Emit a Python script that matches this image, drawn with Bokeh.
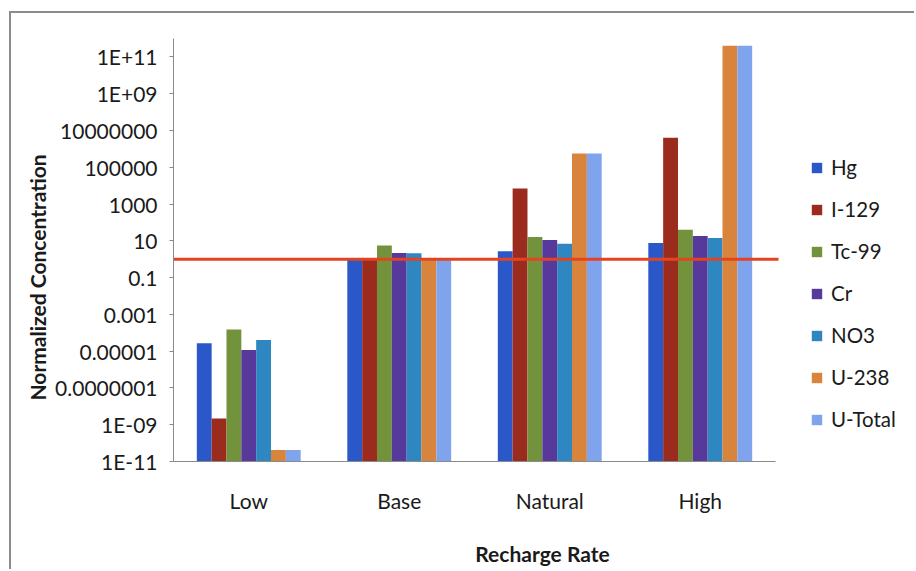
from bokeh.plotting import figure
from bokeh.models import (ColumnDataSource, Range1d, FixedTicker, Legend, LegendItem,
                          Title)
from bokeh.transform import dodge
from bokeh.embed import file_html
from bokeh.resources import INLINE

# ---- data ----
categories = ["Low", "Base", "Natural", "High"]
series_names = ["Hg", "I-129", "Tc-99", "Cr", "NO3", "U-238", "U-Total"]
hg      = [2.7e-5, 1.0, 2.7, 7.5]
i129    = [2.2e-9, 1.0, 7.0e3, 4.0e6]
tc99    = [1.5e-4, 5.5, 16.0, 40.0]
cr      = [1.15e-5, 2.2, 11.0, 18.0]
no3     = [4.0e-5, 2.1, 7.0, 14.0]
u238    = [4.2e-11, 0.9, 5.5e5, 4.0e11]
utotal  = [4.2e-11, 0.9, 5.5e5, 4.0e11]
threshold = 1.0
y_ticks = [1e-11, 1e-9, 1e-7, 1e-5, 1e-3, 1e-1, 1e1, 1e3, 1e5, 1e7, 1e9, 1e11]
y_tick_labels = ["1E-11", "1E-09", "0.0000001", "0.00001", "0.001", "0.1", "10",
                 "1000", "100000", "10000000", "1E+09", "1E+11"]
colors = ["#2b58c9", "#9b2c1d", "#72933b", "#56399b", "#2e87c0", "#d9843c", "#7fa4ed"]

FONT = "Lato"
TXT = "#1a1a1a"
AXC = "#8a8a8a"

ncat = len(categories)
xpos = [k + 0.5 for k in range(ncat)]
src = ColumnDataSource(dict(x=xpos, Hg=hg, I129=i129, Tc99=tc99, Cr=cr,
                            NO3=no3, U238=u238, UTotal=utotal))
cols = ["Hg", "I129", "Tc99", "Cr", "NO3", "U238", "UTotal"]

# frame extends to the right so that the legend (inside the frame) is not clipped
x_end = ncat * (911 - 173) / (775 - 173)
p = figure(width=905, height=558, x_range=Range1d(0, x_end),
           y_range=Range1d(1e-11, 1e12), y_axis_type="log",
           output_backend="svg", toolbar_location=None,
           min_border_left=162, min_border_right=5, min_border_top=25,
           min_border_bottom=110)
p.styles = {"border-left": "2px solid #8c8c8c", "border-top": "2px solid #8c8c8c",
            "margin-left": "9px", "margin-top": "11px"}

bw = 0.0986
items = []
for i, (col, name, c) in enumerate(zip(cols, series_names, colors)):
    r = p.vbar(x=dodge("x", (i - 3) * bw), top=col, bottom=1e-11,
               width=bw, source=src, fill_color=c, line_color=None)
    items.append(LegendItem(label=name, renderers=[r]))

p.segment(x0=0, y0=threshold, x1=ncat + 0.02, y1=threshold,
          line_color="#e5431f", line_width=3)

legend = Legend(items=items, location=(637, 30), padding=0, margin=0,
                border_line_alpha=0, background_fill_alpha=0,
                glyph_width=13, glyph_height=13, label_standoff=8, spacing=18,
                label_height=24, label_text_font=FONT, label_text_font_size="20.5px",
                label_text_color=TXT)
p.add_layout(legend)

p.xgrid.grid_line_color = None
p.ygrid.grid_line_color = None
p.outline_line_color = None
p.background_fill_color = "white"
p.border_fill_color = "white"

ya = p.yaxis[0]
ya.ticker = FixedTicker(ticks=y_ticks, minor_ticks=[])
ya.major_label_overrides = {t: l for t, l in zip(y_ticks, y_tick_labels)}
ya.axis_line_color = AXC
ya.major_tick_line_color = AXC
ya.major_tick_out = 4
ya.major_tick_in = 0
ya.minor_tick_line_color = None
ya.major_label_standoff = 12
ya.major_label_text_font = FONT
ya.major_label_text_font_size = "21px"
ya.major_label_text_color = TXT

ytitle = Title(text="Normalized Concentration", align="left", offset=61,
               text_font=FONT, text_font_size="21px", text_font_style="bold",
               text_color=TXT, standoff=6)
p.add_layout(ytitle, "left")

xa = p.xaxis[0]
xa.ticker = FixedTicker(ticks=xpos, minor_ticks=[])
xa.major_label_overrides = {t: l for t, l in zip(xpos, categories)}
xa.bounds = (0, ncat)
xa.axis_line_color = AXC
xa.major_tick_line_color = None
xa.minor_tick_line_color = None
xa.major_label_standoff = 20
xa.major_label_text_font = FONT
xa.major_label_text_font_size = "21px"
xa.major_label_text_color = TXT
xa.axis_label = "Recharge Rate"
xa.axis_label_text_font = FONT
xa.axis_label_text_font_size = "21px"
xa.axis_label_text_font_style = "bold"
xa.axis_label_text_color = TXT
xa.axis_label_standoff = 25

open("out.html", "w").write(file_html(p, INLINE))
